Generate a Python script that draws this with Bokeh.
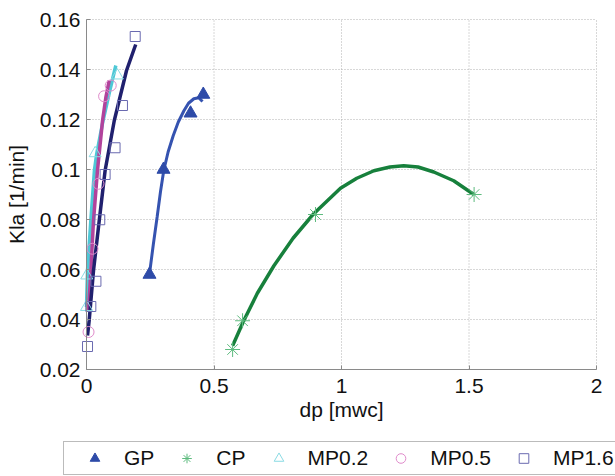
from bokeh.plotting import figure
from bokeh.models import Legend, LegendItem, FixedTicker, Range1d
from bokeh.embed import file_html
from bokeh.resources import INLINE

# ---------------- data ----------------
x_ticks = [0, 0.5, 1, 1.5, 2]
x_tick_labels = ["0", "0.5", "1", "1.5", "2"]
y_ticks = [0.02, 0.04, 0.06, 0.08, 0.1, 0.12, 0.14, 0.16]
y_tick_labels = ["0.02", "0.04", "0.06", "0.08", "0.1", "0.12", "0.14", "0.16"]

series_names = ["GP", "CP", "MP0.2", "MP0.5", "MP1.6"]

gp_x = [0.247, 0.302, 0.408, 0.458]
gp_y = [0.058, 0.100, 0.1225, 0.130]
cp_x = [0.573, 0.612, 0.898, 1.520]
cp_y = [0.028, 0.0395, 0.082, 0.090]
mp02_x = [0.0, 0.001, 0.034, 0.121]
mp02_y = [0.045, 0.0576, 0.1065, 0.1376]
mp05_x = [0.008, 0.0235, 0.047, 0.069, 0.095]
mp05_y = [0.035, 0.0683, 0.0943, 0.1293, 0.1336]
mp16_x = [0.004, 0.017, 0.037, 0.052, 0.073, 0.112, 0.141, 0.191]
mp16_y = [0.0292, 0.0452, 0.0553, 0.0799, 0.098, 0.1087, 0.1256, 0.1532]

# fitted trend curves
gp_fit_x = [0.248, 0.262, 0.277, 0.290, 0.303, 0.320, 0.340, 0.360, 0.382, 0.400, 0.421, 0.440, 0.455]
gp_fit_y = [0.059, 0.070, 0.081, 0.091, 0.0996, 0.107, 0.1135, 0.119, 0.1235, 0.1265, 0.1283, 0.1287, 0.1272]
cp_fit_x = [0.573, 0.617, 0.670, 0.735, 0.810, 0.891, 0.996, 1.060, 1.127, 1.190, 1.244, 1.300, 1.362, 1.440, 1.519]
cp_fit_y = [0.0295, 0.0396, 0.0505, 0.0615, 0.0725, 0.0823, 0.0925, 0.0965, 0.0995, 0.1010, 0.1015, 0.1010, 0.0990, 0.0955, 0.0900]
mp02_fit_x = [0.0, 0.004, 0.017, 0.031, 0.040, 0.065, 0.090, 0.115]
mp02_fit_y = [0.045, 0.0596, 0.0796, 0.0996, 0.1063, 0.1196, 0.131, 0.1416]
mp05_fit_x = [0.008, 0.017, 0.0275, 0.043, 0.063, 0.076, 0.089]
mp05_fit_y = [0.0436, 0.0596, 0.0796, 0.0996, 0.1196, 0.1289, 0.1356]
mp16_fit_x = [0.004, 0.0105, 0.0275, 0.050, 0.073, 0.109, 0.157, 0.193]
mp16_fit_y = [0.0336, 0.0396, 0.0596, 0.0796, 0.0996, 0.1196, 0.1396, 0.150]

# ---------------- layout constants (pixels) ----------------
W, H = 615, 476
AX_LEFT, AX_RIGHT, AX_TOP, AX_BOTTOM = 86, 596, 19, 369   # where the axes box sits
x_lo, x_hi = x_ticks[0], x_ticks[-1]
y_lo, y_hi = y_ticks[0], y_ticks[-1]
sx = (AX_RIGHT - AX_LEFT) / (x_hi - x_lo)
sy = (AX_BOTTOM - AX_TOP) / (y_hi - y_lo)
x_range = Range1d(x_lo - AX_LEFT / sx, x_lo + (W - AX_LEFT) / sx)
y_range = Range1d(y_hi + AX_TOP / sy - H / sy, y_hi + AX_TOP / sy)

FONT = "Liberation Sans"
marker_styles = [
    dict(marker="triangle", size=13, fill_color="#2E4BA8", line_color="#2E4BA8", line_width=1),
    dict(marker="asterisk", size=15, fill_color=None, line_color="#5DBB7E", line_width=1),
    dict(marker="triangle", size=12, fill_color=None, line_color="#8ADBE4", line_width=1),
    dict(marker="circle", size=11, fill_color=None, line_color="#E08BCB", line_width=1),
    dict(marker="square", size=10, fill_color=None, line_color="#6A6AB0", line_width=1),
]
line_styles = [
    dict(line_color="#3553B0", line_width=3),
    dict(line_color="#17803C", line_width=3.5),
    dict(line_color="#4EC8D6", line_width=3.5),
    dict(line_color="#B2439C", line_width=3.5),
    dict(line_color="#20206E", line_width=3.5),
]

# ---------------- figure: frame covers the whole canvas ----------------
p = figure(width=W, height=H, output_backend="svg", toolbar_location=None,
           x_range=x_range, y_range=y_range,
           min_border=0, min_border_left=0, min_border_right=0,
           min_border_top=0, min_border_bottom=0)
p.outline_line_color = None
p.background_fill_color = "white"
p.border_fill_color = "white"
p.grid.visible = False

for ax, ticks, labels in ((p.xaxis[0], x_ticks, x_tick_labels), (p.yaxis[0], y_ticks, y_tick_labels)):
    ax.ticker = FixedTicker(ticks=ticks)
    ax.major_label_overrides = {t: l for t, l in zip(ticks, labels)}
    ax.major_label_text_font = FONT
    ax.major_label_text_font_size = "21px"
    ax.major_label_text_color = "#111111"
    ax.axis_label_text_font = FONT
    ax.axis_label_text_font_size = "21px"
    ax.axis_label_text_font_style = "normal"
    ax.axis_label_text_color = "#111111"
    ax.axis_line_color = "#8a8a8a"
    ax.major_tick_line_color = "#8a8a8a"
    ax.major_tick_in = 4
    ax.major_tick_out = 0
    ax.minor_tick_line_color = None

p.xaxis.fixed_location = y_lo
p.yaxis.fixed_location = x_lo
p.xaxis.bounds = (x_lo, x_hi)
p.yaxis.bounds = (y_lo, y_hi)
p.xaxis.axis_label = "dp [mwc]"
p.yaxis.axis_label = "Kla [1/min]"
p.xaxis.major_label_standoff = 9
p.xaxis.axis_label_standoff = 2
p.yaxis.major_label_standoff = 6
p.yaxis.axis_label_standoff = 9

# dotted grid, limited to the axes box
grid_style = dict(line_color="#b0b0b0", line_dash="1 2", line_width=1)
p.segment(x0=x_ticks, y0=[y_lo] * len(x_ticks), x1=x_ticks, y1=[y_hi] * len(x_ticks), **grid_style)
p.segment(x0=[x_lo] * len(y_ticks), y0=y_ticks, x1=[x_hi] * len(y_ticks), y1=y_ticks, **grid_style)

fits = [(gp_fit_x, gp_fit_y), (cp_fit_x, cp_fit_y), (mp02_fit_x, mp02_fit_y),
        (mp05_fit_x, mp05_fit_y), (mp16_fit_x, mp16_fit_y)]
points = [(gp_x, gp_y), (cp_x, cp_y), (mp02_x, mp02_y), (mp05_x, mp05_y), (mp16_x, mp16_y)]

for (fx, fy), ls in zip(fits, line_styles):
    p.line(fx, fy, **ls)
renderers = [p.scatter(px, py, **ms) for (px, py), ms in zip(points, marker_styles)]

legend = Legend(items=[LegendItem(label=n, renderers=[r]) for n, r in zip(series_names, renderers)],
                orientation="horizontal", location=(63, 1),
                glyph_width=53, glyph_height=24, label_standoff=3, spacing=6,
                padding=4, margin=0,
                label_text_font=FONT, label_text_font_size="21px", label_text_color="#111111",
                border_line_color="#777777", border_line_width=1.5,
                background_fill_color="white", background_fill_alpha=1.0)
p.add_layout(legend, "center")

open("out.html", "w").write(file_html(p, INLINE))
